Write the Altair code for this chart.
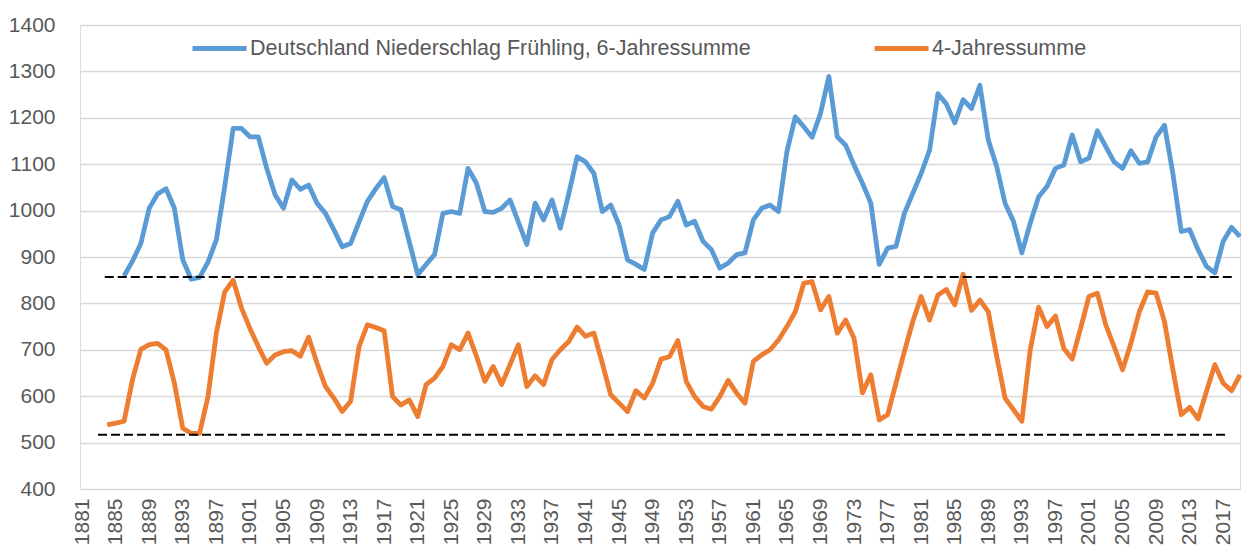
import altair as alt
import pandas as pd

label_6 = "Deutschland Niederschlag Frühling, 6-Jahressumme"
label_4 = "4-Jahressumme"

years_6 = list(range(1886, 2020))
sum_6 = [
    859, 891, 929, 1005, 1036, 1047, 1005, 894, 852, 856,          # 1886-1895
    889, 937, 1052, 1177, 1177, 1159, 1159, 1091, 1034, 1005,      # 1896-1905
    1066, 1046, 1055, 1016, 994, 959, 922, 929, 975, 1020,         # 1906-1915
    1047, 1071, 1009, 1002, 932, 862, 884, 905, 994, 998,          # 1916-1925
    994, 1091, 1059, 998, 996, 1005, 1023, 975, 927, 1016,         # 1926-1935
    980, 1023, 962, 1036, 1116, 1105, 1080, 998, 1012, 969,        # 1936-1945
    894, 884, 873, 952, 980, 987, 1020, 969, 977, 934,             # 1946-1955
    916, 876, 887, 905, 909, 980, 1005, 1012, 998, 1127,           # 1956-1965
    1202, 1181, 1158, 1209, 1289, 1159, 1141, 1098, 1059, 1016,    # 1966-1975
    884, 919, 923, 994, 1037, 1080, 1130, 1252, 1230, 1189,        # 1976-1985
    1239, 1220, 1270, 1152, 1095, 1016, 977, 909, 973, 1030,       # 1986-1995
    1052, 1091, 1098, 1163, 1105, 1113, 1172, 1138, 1105, 1091,    # 1996-2005
    1129, 1102, 1105, 1159, 1184, 1080, 955, 959, 916, 880,        # 2006-2015
    866, 934, 964, 944,                                            # 2016-2019
]

years_4 = list(range(1884, 2020))
sum_4 = [
    538, 542, 546, 635, 701, 711, 714, 700, 628, 531,              # 1884-1893
    520, 520, 599, 736, 825, 850, 790, 746, 707, 671,              # 1894-1903
    689, 696, 698, 686, 727, 671, 621, 596, 567, 589,              # 1904-1913
    707, 754, 748, 741, 599, 581, 592, 556, 625, 639,              # 1914-1923
    664, 711, 700, 736, 686, 632, 664, 625, 668, 711,              # 1924-1933
    621, 644, 625, 679, 700, 718, 749, 729, 736, 671,              # 1934-1943
    603, 585, 567, 612, 596, 628, 680, 685, 720, 632,              # 1944-1953
    599, 578, 572, 599, 634, 607, 585, 675, 689, 700,              # 1954-1963
    721, 750, 782, 843, 847, 786, 815, 736, 764, 725,              # 1964-1973
    607, 646, 549, 560, 628, 696, 761, 815, 764, 818,              # 1974-1983
    830, 797, 863, 785, 807, 782, 686, 596, 571, 546,              # 1984-1993
    700, 792, 750, 773, 703, 680, 746, 815, 822, 754,              # 1994-2003
    707, 657, 714, 782, 825, 822, 761, 657, 560, 576,              # 2004-2013
    551, 610, 668, 628, 612, 646,                                  # 2014-2019
]

ref_values = [857, 517]
ref_start = [1883.7, 1882.9]
ref_end = [2018.4, 2017.4]

x_ticks = list(range(1881, 2018, 4))
y_ticks = list(range(400, 1401, 100))

series_names = [label_6, label_4]
series_colors = ["#5B9BD5", "#ED7D31"]

df = pd.concat([
    pd.DataFrame({"year": years_6, "value": sum_6, "series": label_6}),
    pd.DataFrame({"year": years_4, "value": sum_4, "series": label_4}),
])
ref_df = pd.DataFrame({"value": ref_values, "start": ref_start, "end": ref_end})

FONT = "Liberation Sans"
TXT = "#595959"

x_enc = alt.X(
    "year:Q",
    scale=alt.Scale(domain=[1880.75, 2019], nice=False, zero=False),
    axis=alt.Axis(
        values=x_ticks, tickCount=100, format="d", labelAngle=270,
        grid=False, domain=False, ticks=False, labelFontSize=21,
        labelColor=TXT, labelPadding=9, title=None, labelOverlap=False,
        labelFont=FONT, labelBound=False,
    ),
)
y_enc = alt.Y(
    "value:Q",
    scale=alt.Scale(domain=[400, 1400], nice=False, zero=False),
    axis=alt.Axis(
        values=y_ticks, tickCount=20, format="d", grid=True,
        gridColor="#d9d9d9", gridWidth=1.3, domain=False, ticks=False,
        labelFontSize=21, labelColor=TXT, labelPadding=25, title=None,
        labelFont=FONT,
    ),
)

lines = alt.Chart(df).mark_line(strokeWidth=4.8, strokeJoin="round").encode(
    x=x_enc,
    y=y_enc,
    color=alt.Color(
        "series:N",
        scale=alt.Scale(domain=series_names, range=series_colors),
        legend=alt.Legend(
            title=None, orient="none", direction="horizontal",
            legendX=110, legendY=-6, symbolType="stroke", symbolSize=2916,
            symbolStrokeWidth=4.8, labelFontSize=21.5, labelColor=TXT,
            labelFont=FONT, labelLimit=0, columnPadding=113, padding=0,
            labelOffset=1,
        ),
    ),
    order="year:Q",
)

refs = alt.Chart(ref_df).mark_rule(
    color="black", strokeWidth=2, strokeDash=[9, 4]
).encode(
    x=alt.X("start:Q"),
    x2="end:Q",
    y=alt.Y("value:Q"),
)

chart = alt.layer(lines, refs).properties(
    width=1235,
    height=537,
    autosize=alt.AutoSizeParams(type="fit", contains="padding"),
    padding={"left": 0, "top": 6, "right": 0, "bottom": 0},
).configure_view(stroke=None).configure(font=FONT).configure_axisX(
    labelOverlap=False
)

chart.save("out.html", embed_options={"renderer": "svg", "actions": False})
